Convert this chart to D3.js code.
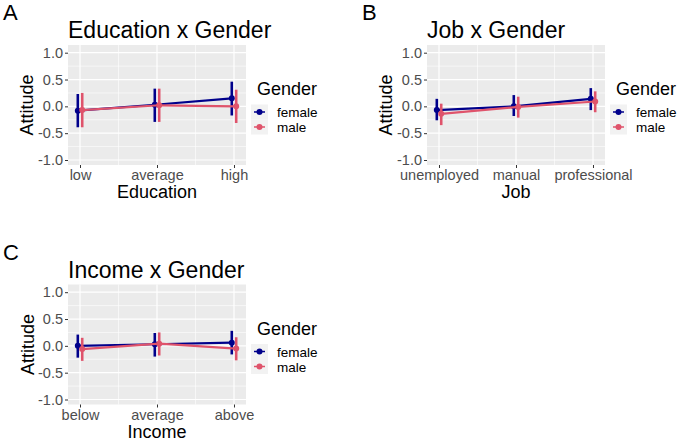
<!DOCTYPE html>
<html>
<head>
<meta charset="utf-8">
<script src="https://cdn.jsdelivr.net/npm/d3@7"></script>
<style>
  body { margin: 0; background: #fff; }
  text { font-family: "Liberation Sans", Arial, sans-serif; }
</style>
</head>
<body>
<div id="chart"></div>
<script>
// Data
const genders = ["female", "male"];
const genderColors = ["#00008B", "#DF536B"];

const eduCats = ["low", "average", "high"];
const eduFemale = [-0.08, 0.03, 0.15];
const eduFemaleLo = [-0.39, -0.29, -0.17];
const eduFemaleHi = [0.23, 0.33, 0.46];
const eduMale = [-0.07, 0.02, 0.00];
const eduMaleLo = [-0.39, -0.29, -0.31];
const eduMaleHi = [0.25, 0.33, 0.31];

const jobCats = ["unemployed", "manual", "professional"];
const jobFemale = [-0.07, 0.00, 0.14];
const jobFemaleLo = [-0.26, -0.18, -0.07];
const jobFemaleHi = [0.14, 0.21, 0.34];
const jobMale = [-0.14, -0.01, 0.09];
const jobMaleLo = [-0.35, -0.21, -0.11];
const jobMaleHi = [0.05, 0.18, 0.28];

const incCats = ["below", "average", "above"];
const incFemale = [0.00, 0.03, 0.06];
const incFemaleLo = [-0.22, -0.20, -0.16];
const incFemaleHi = [0.21, 0.24, 0.28];
const incMale = [-0.06, 0.04, -0.05];
const incMaleLo = [-0.28, -0.18, -0.27];
const incMaleHi = [0.15, 0.25, 0.16];

const yTicks = [-1.0, -0.5, 0.0, 0.5, 1.0];
const yMinor = [-0.75, -0.25, 0.25, 0.75];

const width = 684;
const height = 441;

const svg = d3.select("#chart")
    .append("svg")
    .attr("width", width)
    .attr("height", height);

// Build one panel
function drawPanel(p) {
    const g = svg.append("g").attr("transform", `translate(${p.ox},${p.oy})`);

    const left = 68, right = 246, top = 45, bottom = 165;

    const x = d3.scalePoint()
        .domain(p.cats)
        .range([left, right])
        .padding(0.156);
    const y = d3.scaleLinear()
        .domain([-1, 1])
        .range([160, 52.7]);

    // tag letter
    g.append("text")
        .attr("x", 3).attr("y", 20)
        .style("font-size", "22px")
        .text(p.tag);

    // title
    g.append("text")
        .attr("x", left).attr("y", 38)
        .style("font-size", "23px")
        .text(p.title);

    // panel background
    g.append("rect")
        .attr("x", left).attr("y", top)
        .attr("width", right - left).attr("height", bottom - top)
        .attr("fill", "#EBEBEB");

    // grid
    const step = x.step();
    const xMinor = p.cats.slice(1).map(c => x(c) - step / 2);
    g.selectAll(".ymin").data(yMinor).join("line")
        .attr("x1", left).attr("x2", right)
        .attr("y1", d => y(d)).attr("y2", d => y(d))
        .attr("stroke", "#fff").attr("stroke-width", 0.6);
    g.selectAll(".xmin").data(xMinor).join("line")
        .attr("y1", top).attr("y2", bottom)
        .attr("x1", d => d).attr("x2", d => d)
        .attr("stroke", "#fff").attr("stroke-width", 0.6);
    g.selectAll(".ymaj").data(yTicks).join("line")
        .attr("x1", left).attr("x2", right)
        .attr("y1", d => y(d)).attr("y2", d => y(d))
        .attr("stroke", "#fff").attr("stroke-width", 1.2);
    g.selectAll(".xmaj").data(p.cats).join("line")
        .attr("y1", top).attr("y2", bottom)
        .attr("x1", d => x(d)).attr("x2", d => x(d))
        .attr("stroke", "#fff").attr("stroke-width", 1.2);

    // axes
    const yAxis = g.append("g")
        .attr("transform", `translate(${left},0)`)
        .call(d3.axisLeft(y).tickValues(yTicks).tickFormat(d3.format(".1f")).tickSize(3).tickPadding(2));
    yAxis.select(".domain").remove();
    yAxis.selectAll("line").attr("stroke", "#333");
    yAxis.selectAll("text")
        .style("font-size", "14.5px")
        .attr("fill", "#4D4D4D")
        .text(d => d3.format(".1f")(d).replace("−", "-"));

    const xAxis = g.append("g")
        .attr("transform", `translate(0,${bottom})`)
        .call(d3.axisBottom(x).tickSize(3).tickPadding(2));
    xAxis.select(".domain").remove();
    xAxis.selectAll("line").attr("stroke", "#333");
    xAxis.selectAll("text")
        .style("font-size", "14.5px")
        .attr("fill", "#4D4D4D");

    // axis titles
    g.append("text")
        .attr("transform", `translate(${p.yTitleX},${(top + bottom) / 2}) rotate(-90)`)
        .attr("text-anchor", "middle")
        .attr("dy", "0.35em")
        .style("font-size", "18px")
        .text("Attitude");
    g.append("text")
        .attr("x", (left + right) / 2).attr("y", 198)
        .attr("text-anchor", "middle")
        .style("font-size", "18px")
        .text(p.xTitle);

    // series
    const dodge = [-2.2, 2.2];
    p.series.forEach((s, i) => {
        const pts = p.cats.map((c, j) => ({ c, v: s.est[j], lo: s.lo[j], hi: s.hi[j] }));
        const col = genderColors[i];
        const line = d3.line()
            .x(d => x(d.c) + dodge[i])
            .y(d => y(d.v));
        g.append("path")
            .datum(pts)
            .attr("d", line)
            .attr("fill", "none")
            .attr("stroke", col)
            .attr("stroke-width", 2.2);
        g.selectAll(null).data(pts).join("line")
            .attr("x1", d => x(d.c) + dodge[i]).attr("x2", d => x(d.c) + dodge[i])
            .attr("y1", d => y(d.lo)).attr("y2", d => y(d.hi))
            .attr("stroke", col)
            .attr("stroke-width", 2.6);
        g.selectAll(null).data(pts).join("circle")
            .attr("cx", d => x(d.c) + dodge[i])
            .attr("cy", d => y(d.v))
            .attr("r", 3)
            .attr("fill", col);
    });

    // legend
    const lg = g.append("g").attr("transform", `translate(${right + 5},0)`);
    lg.append("text")
        .attr("x", 6).attr("y", 95)
        .style("font-size", "18px")
        .text("Gender");
    genders.forEach((gname, i) => {
        const cy = 112 + i * 15;
        lg.append("rect")
            .attr("x", 0).attr("y", cy - 7.5)
            .attr("width", 17).attr("height", 15)
            .attr("fill", "#F2F2F2");
        lg.append("line")
            .attr("x1", 3).attr("x2", 14)
            .attr("y1", cy).attr("y2", cy)
            .attr("stroke", genderColors[i]).attr("stroke-width", 1.5);
        lg.append("circle")
            .attr("cx", 8.5).attr("cy", cy).attr("r", 3)
            .attr("fill", genderColors[i]);
        lg.append("text")
            .attr("x", 26).attr("y", cy + 5)
            .style("font-size", "13.5px")
            .text(gname);
    });
}

drawPanel({
    ox: 0, oy: 0, tag: "A", title: "Education x Gender", xTitle: "Education", yTitleX: 27,
    cats: eduCats,
    series: [
        { est: eduFemale, lo: eduFemaleLo, hi: eduFemaleHi },
        { est: eduMale, lo: eduMaleLo, hi: eduMaleHi }
    ]
});

drawPanel({
    ox: 359, oy: 0, tag: "B", title: "Job x Gender", xTitle: "Job", yTitleX: 27,
    cats: jobCats,
    series: [
        { est: jobFemale, lo: jobFemaleLo, hi: jobFemaleHi },
        { est: jobMale, lo: jobMaleLo, hi: jobMaleHi }
    ]
});

drawPanel({
    ox: 0, oy: 239.5, tag: "C", title: "Income x Gender", xTitle: "Income", yTitleX: 28,
    cats: incCats,
    series: [
        { est: incFemale, lo: incFemaleLo, hi: incFemaleHi },
        { est: incMale, lo: incMaleLo, hi: incMaleHi }
    ]
});
</script>
</body>
</html>
